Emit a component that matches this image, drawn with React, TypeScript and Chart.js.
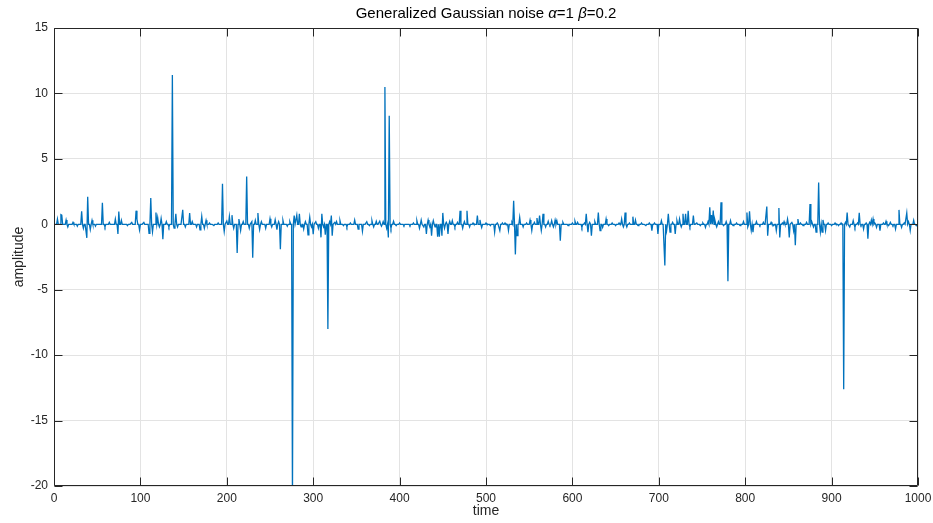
import React, { useEffect, useRef } from "react";
import { Chart, registerables } from "chart.js";

Chart.register(...registerables);

const TITLE_PARTS = [
  { text: "Generalized Gaussian noise ", italic: false },
  { text: "α", italic: true },
  { text: "=1 ", italic: false },
  { text: "β", italic: true },
  { text: "=0.2", italic: false },
];
const X_LABEL = "time";
const Y_LABEL = "amplitude";
const N_SAMPLES = 1000;
const xTicks = [0, 100, 200, 300, 400, 500, 600, 700, 800, 900, 1000];
const yTicks = [-20, -15, -10, -5, 0, 5, 10, 15];

// sample index of each visible excursion from zero
const eventTimes = [
  4, 8, 9, 14, 16, 22, 27, 32, 34, 38, 39, 42, 44, 48, 56, 59, 64, 71, 74, 75, 78, 85, 90, 95, 96, 99,
  104, 110, 112, 114, 118, 120, 122, 124, 126, 130, 133, 137, 139, 141, 143, 149, 152, 157, 160, 165, 169,
  171, 174, 176, 180, 185, 190, 195, 197, 200, 203, 206, 208, 212, 214, 216, 219, 223, 226, 229, 230, 233,
  236, 238, 240, 245, 250, 252, 256, 258, 260, 262, 265, 270, 273, 276, 278, 281, 284, 286, 289, 291, 294,
  296, 298, 300, 303, 306, 309, 310, 312, 314, 317, 319, 321, 322, 325, 327, 331, 335, 339, 343, 348, 352,
  357, 362, 365, 368, 370, 373, 377, 379, 381, 383, 385, 387, 388, 390, 393, 396, 400, 405, 412, 416, 420,
  423, 425, 428, 431, 433, 435, 437, 439, 441, 444, 446, 449, 450, 452, 454, 456, 458, 461, 464, 467, 470,
  473, 475, 478, 481, 485, 490, 493, 495, 500, 505, 510, 513, 516, 519, 522, 526, 530, 532, 534, 536, 539,
  543, 547, 551, 553, 556, 559, 562, 564, 566, 569, 572, 574, 576, 578, 580, 582, 586, 589, 595, 600, 603,
  606, 611, 614, 616, 618, 620, 622, 626, 630, 632, 635, 639, 642, 646, 650, 654, 657, 659, 661, 663, 666,
  670, 673, 676, 680, 685, 689, 692, 695, 699, 703, 707, 709, 711, 713, 716, 719, 721, 724, 726, 728, 731,
  734, 736, 740, 744, 748, 751, 754, 757, 759, 761, 763, 765, 767, 769, 772, 775, 778, 780, 783, 786, 790,
  794, 798, 802, 803, 805, 807, 809, 813, 817, 821, 825, 826, 830, 833, 836, 839, 840, 843, 845, 849, 851,
  854, 856, 858, 861, 864, 867, 871, 875, 877, 879, 882, 885, 887, 889, 890, 893, 896, 900, 904, 908, 911,
  914, 916, 918, 921, 925, 927, 930, 932, 934, 937, 940, 942, 944, 946, 948, 950, 952, 956, 960, 963, 966,
  968, 971, 974, 978, 981, 984, 987, 989, 991, 995, 998,
];

// amplitude read at each of those samples
const eventValues = [
  0.4, 0.74, 0.7, 0.33, -0.2, 0.15, -0.15, 1.0, -0.3, -1.04, 2.1, -0.4, 0.3, -0.15, 1.65, -0.2, 0.15, 0.4, -0.74, 0.97, 0.3, -0.1, 0.15, 1.04, 0.4, -0.43,
  0.15, -0.7, 2.0, -0.58, 0.9, 0.5, -0.2, 0.45, -1.14, 0.2, -0.2, 11.4, -0.3, 0.8, -0.2, 1.1, -0.2, 0.85, 0.2, -0.2, -0.43,
  0.6, -0.3, 0.3, 0.1, -0.1, 0.1, 3.1, -0.55, 0.25, 0.6, 0.7, -0.3, -2.2, 0.4, -0.46, 0.2, 3.65, -0.3, 0.2, -2.55, 0.3,
  0.86, -0.4, 0.2, -0.3, 0.43, -0.2, 0.35, -0.4, 0.2, -1.9, 0.3, -0.15, 0.2, -21, 0.66, 0.7, 0.8, -0.2, -0.36, 0.2, -0.8,
  0.55, -0.2, -0.75, 0.2, -0.3, -1.0, 0.8, -0.2, -0.8, -8.0, 0.2, 0.66, -0.87, 0.15, 0.2, 0.28, -0.1, -0.2, 0.1, 0.33, -0.36,
  -0.53, 0.2, -0.1, 0.28, -0.2, 0.23, 0.23, -0.15, 0.2, 10.5, -0.3, -1.0, 8.3, -0.3, 0.23, -0.1, 0.1, -0.1, -0.1, 0.1, 0.28,
  -0.3, 0.33, -0.2, -0.74, 0.33, -0.2, -0.87, 0.28, -0.2, -0.95, -0.95, -0.87, 0.87, -0.3, 0.15, -0.74, 0.23, 0.28, -0.2, 0.15, 1.04,
  -0.3, 0.2, 1.04, -0.2, 0.1, 0.66, 0.33, -0.25, 0.1, -0.1, -0.6, 0.1, -0.48, 0.1, 0.1, -0.48, 0.15, 1.8, -2.3, -0.87, 0.53,
  -0.2, 0.1, 0.33, -0.48, 0.15, 0.48, 0.66, -0.48, 0.8, -0.2, 0.23, -0.1, 0.28, -0.2, 0.33, 0.28, -1.25, 0.15, -0.1, 0.1, 0.23,
  0.15, -0.23, 0.1, 0.8, -0.6, 0.15, -0.87, 0.2, 0.9, -0.48, -0.23, 0.4, -0.1, 0.1, -0.1, 0.1, 0.4, -0.2, 0.9, -0.2, 0.1,
  0.58, 0.33, -0.1, 0.1, -0.1, 0.1, -0.48, 0.1, -0.74, 0.28, -3.15, -0.5, 0.8, -0.6, 0.15, -0.74, 0.28, 0.4, -0.2, 0.8, 0.8,
  1.04, -0.2, 0.66, 0.1, -0.1, 0.1, -0.23, 0.2, 1.3, 0.7, 1.05, 0.3, -0.2, 0.2, 1.68, -0.1, 0.2, -4.35, 0.28, -0.1, 0.1,
  -0.1, 0.2, 0.9, -0.2, 1.0, -0.48, -0.6, 0.2, -0.1, 0.15, 1.35, -0.87, 0.15, -0.1, -0.48, 1.25, -1.0, 0.1, 0.2, 0.4, -1.0,
  0.15, -0.48, -1.6, 0.4, 0.1, -0.1, 0.15, 1.55, 0.2, -0.2, -0.6, 3.2, -0.6, -0.6, 0.33, -0.48, 0.1, -0.1, 0.1, -0.1, 0.1,
  -12.6, 0.15, 0.9, -0.2, 0.28, -0.23, 0.1, 0.87, -0.1, -0.36, 0.1, -1.1, 0.15, 0.33, 0.4, 0.1, -0.23, -0.48, 0.1, 0.23, -0.1,
  0.15, -0.1, -0.36, 1.1, -0.23, 0.1, 0.87, 0.2, -0.48, 0.3, -0.1,
];

const LINE_COLOR = "#0072BD";
const AXIS_COLOR = "#262626";
const GRID_COLOR = "#e3e3e3";
const FONT = '"Liberation Sans", Arial, Helvetica, sans-serif';

function buildPoints() {
  const values: number[] = new Array(N_SAMPLES).fill(0);
  eventTimes.forEach((t, i) => {
    values[t] = eventValues[i];
  });
  return values.map((v, i) => ({ x: i, y: v }));
}

const framePlugin = {
  id: "matlabFrame",
  afterDraw(chart: any) {
    const { ctx, chartArea, scales } = chart;
    const { left, right, top, bottom } = chartArea;
    const x = scales.x;
    const y = scales.y;
    ctx.save();
    ctx.strokeStyle = AXIS_COLOR;
    ctx.lineWidth = 1;
    const L = Math.round(left) + 0.5;
    const R = Math.round(right) - 0.5;
    const T = Math.round(top) + 0.5;
    const B = Math.round(bottom) - 0.5;
    ctx.beginPath();
    ctx.rect(L, T, R - L, B - T);
    ctx.stroke();
    const tl = 8;
    ctx.beginPath();
    xTicks.forEach((v) => {
      const px = Math.round(x.getPixelForValue(v)) + 0.5;
      ctx.moveTo(px, B);
      ctx.lineTo(px, B - tl);
      ctx.moveTo(px, T);
      ctx.lineTo(px, T + tl);
    });
    yTicks.forEach((v) => {
      const py = Math.round(y.getPixelForValue(v)) + 0.5;
      ctx.moveTo(L, py);
      ctx.lineTo(L + tl, py);
      ctx.moveTo(R, py);
      ctx.lineTo(R - tl, py);
    });
    ctx.stroke();

    // title
    ctx.fillStyle = "#000";
    ctx.textBaseline = "middle";
    ctx.textAlign = "left";
    const tSize = 15;
    const widths = TITLE_PARTS.map((p) => {
      ctx.font = `${p.italic ? "italic " : ""}${tSize}px ${FONT}`;
      return ctx.measureText(p.text).width;
    });
    const total = widths.reduce((a, b) => a + b, 0);
    let cx = (left + right) / 2 - total / 2;
    TITLE_PARTS.forEach((p, i) => {
      ctx.font = `${p.italic ? "italic " : ""}${tSize}px ${FONT}`;
      ctx.fillText(p.text, cx, 14);
      cx += widths[i];
    });

    // axis labels
    ctx.fillStyle = AXIS_COLOR;
    ctx.font = `14px ${FONT}`;
    ctx.textAlign = "center";
    ctx.fillText(X_LABEL, (left + right) / 2, 511);
    ctx.save();
    ctx.translate(19, (top + bottom) / 2);
    ctx.rotate(-Math.PI / 2);
    ctx.fillText(Y_LABEL, 0, 0);
    ctx.restore();
    ctx.restore();
  },
};

export default function App() {
  const ref = useRef<HTMLCanvasElement | null>(null);
  useEffect(() => {
    if (!ref.current) return;
    const chart = new Chart(ref.current, {
      type: "line",
      data: {
        datasets: [
          {
            data: buildPoints(),
            borderColor: LINE_COLOR,
            borderWidth: 1.3,
            pointRadius: 0,
            tension: 0,
            fill: false,
            clip: 0,
          } as any,
        ],
      },
      options: {
        animation: false,
        responsive: false,
        devicePixelRatio: 1,
        layout: { padding: { left: 0, right: 15, top: 28, bottom: 0 } },
        plugins: {
          legend: { display: false },
          tooltip: { enabled: false },
          title: { display: false },
        },
        scales: {
          x: {
            type: "linear",
            min: 0,
            max: 1000,
            afterBuildTicks: (s: any) => {
              s.ticks = xTicks.map((v) => ({ value: v }));
            },
            afterFit: (s: any) => {
              s.height = 37;
              s.paddingLeft = 0;
              s.paddingRight = 0;
            },
            grid: { color: GRID_COLOR, drawTicks: false, lineWidth: 1 },
            border: { display: false },
            ticks: {
              color: AXIS_COLOR,
              font: { family: FONT, size: 12 },
              padding: 5,
              maxRotation: 0,
              autoSkip: false,
              callback: (v: any) => String(v),
            },
          },
          y: {
            type: "linear",
            min: -20,
            max: 15,
            afterBuildTicks: (s: any) => {
              s.ticks = yTicks.map((v) => ({ value: v }));
            },
            afterFit: (s: any) => {
              s.width = 54;
              s.paddingTop = 0;
              s.paddingBottom = 0;
            },
            grid: { color: GRID_COLOR, drawTicks: false, lineWidth: 1 },
            border: { display: false },
            ticks: {
              color: AXIS_COLOR,
              font: { family: FONT, size: 12 },
              padding: 6,
              autoSkip: false,
              callback: (v: any) => String(v),
            },
          },
        },
      },
      plugins: [framePlugin],
    });
    return () => chart.destroy();
  }, []);
  return (
    <canvas
      ref={ref}
      width={933}
      height={523}
      style={{ position: "absolute", left: 0, top: 0, width: 933, height: 523 }}
    />
  );
}
